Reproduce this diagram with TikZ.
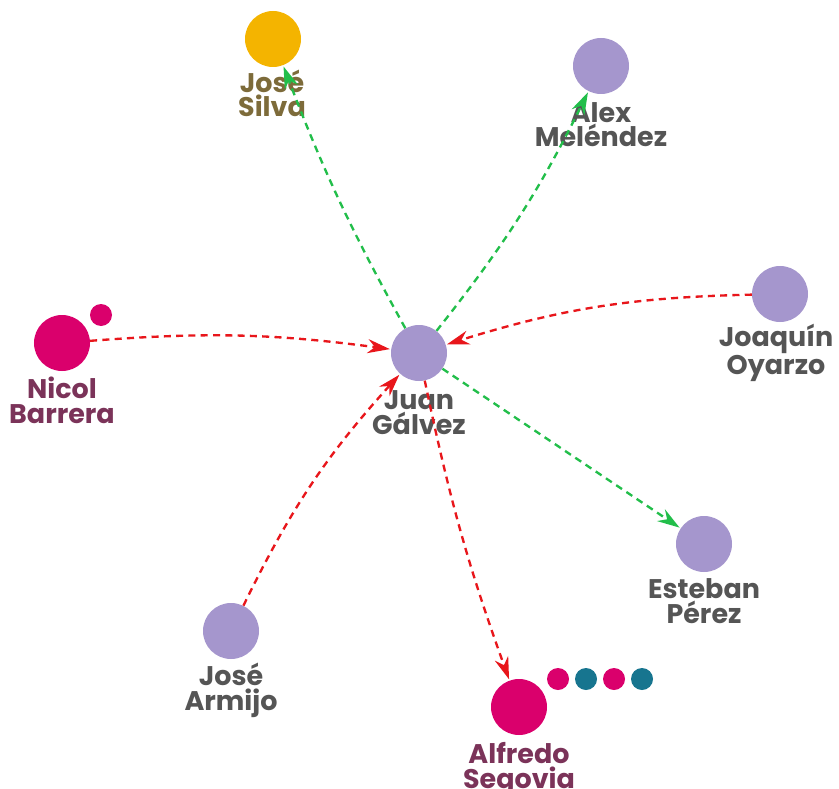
\documentclass[tikz,border=0pt]{standalone}
\usepackage{fontspec}
\setmainfont{Poppins}
\usetikzlibrary{arrows.meta,positioning}
\definecolor{lav}{HTML}{A596CD}
\definecolor{mag}{HTML}{DA006C}
\definecolor{gold}{HTML}{F4B400}
\definecolor{teal}{HTML}{17758F}
\definecolor{greytxt}{HTML}{555555}
\definecolor{olive}{HTML}{7D6B3A}
\definecolor{plum}{HTML}{7B3359}
\definecolor{linkgreen}{HTML}{22BE4A}
\definecolor{linkred}{HTML}{E8161B}
\tikzset{
    person/.style={
           circle,
           fill=lav,
           inner sep=0pt,
           minimum size=1.68cm
           },
    dot/.style={
           circle,
           inner sep=0pt,
           minimum size=0.66cm
           },
    who/.style={
           anchor=base,
           align=center,
           inner sep=0pt,
           text=greytxt,
           font=\fontsize{23}{20.5}\selectfont\bfseries
           },
    agree/.style={
           draw=linkgreen,
           line width=2pt,
           dash pattern=on 6pt off 4.5pt
           },
    oppose/.style={
           draw=linkred,
           line width=2pt,
           dash pattern=on 6pt off 4.5pt
           }
}

\begin{document}
\begin{tikzpicture}[x=0.03cm, y=-0.03cm, >={Stealth[length=19pt,width=12pt]}, shorten >=1pt]
   \useasboundingbox (0,0) rectangle (839,789);
   % people
   \node[person] (juan) at (419,353) {};
   \node[person, fill=gold] (silva) at (273,39) {};
   \node[person] (alex) at (601,66) {};
   \node[person] (joaquin) at (780,294) {};
   \node[person, fill=mag] (nicol) at (62,343) {};
   \node[dot, fill=mag] (nicol1) at (101,315) {};
   \node[person] (esteban) at (704,544) {};
   \node[person] (armijo) at (231,631) {};
   \node[person, fill=mag] (alfredo) at (519,707) {};
   \node[dot, fill=mag] (alfredo1) at (558,679) {};
   \node[dot, fill=teal] (alfredo2) at (586,679) {};
   \node[dot, fill=mag] (alfredo3) at (614,679) {};
   \node[dot, fill=teal] (alfredo4) at (642,679) {};
   % names (base = last line)
   \node[who] (juan-l) at (419,434) {Juan\\Gálvez};
   \node[who, text=olive] (silva-l) at (272,117) {José\\Silva};
   \node[who] (alex-l) at (601,147) {Alex\\Meléndez};
   \node[who] (joaquin-l) at (776,374) {Joaquín\\Oyarzo};
   \node[who, text=plum] (nicol-l) at (62,423) {Nicol\\Barrera};
   \node[who] (esteban-l) at (704,623) {Esteban\\Pérez};
   \node[who] (armijo-l) at (231,710) {José\\Armijo};
   \node[who, text=plum] (alfredo-l) at (519,788) {Alfredo\\Segovia};
   % links
   \path[->]
    (juan) edge[agree, bend left=4] (silva)
    (juan) edge[agree, bend right=6] (alex)
    (juan) edge[agree] (esteban)
    (juan) edge[oppose, bend right=4] (alfredo)
    (joaquin) edge[oppose, bend right=8] (juan)
    (nicol) edge[oppose, bend left=6] (juan)
    (armijo) edge[oppose, bend left=8] (juan);
\end{tikzpicture}
\end{document}
